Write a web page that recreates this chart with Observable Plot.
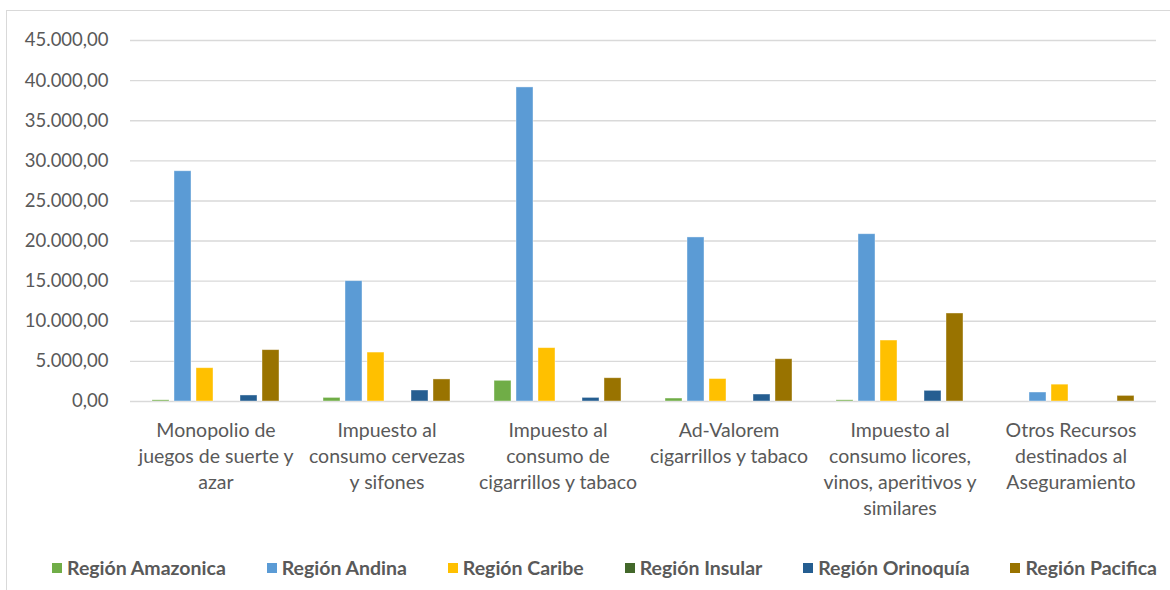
<!DOCTYPE html>
<html><head><meta charset="utf-8">
<script src="https://cdn.jsdelivr.net/npm/d3@7"></script>
<script src="https://cdn.jsdelivr.net/npm/@observablehq/plot@0.6"></script>
<style>
body{margin:0;background:#fff;font-family:Lato,"Open Sans",sans-serif;width:1170px;height:590px;overflow:hidden;position:relative;}
#frame{position:absolute;left:6px;top:10px;width:1200px;height:620px;border:1.5px solid #d9d9d9;}
#chart{position:absolute;left:0;top:0;}
#legend{position:absolute;top:556px;left:52px;width:1105px;display:flex;justify-content:space-between;align-items:center;}
.item{display:flex;align-items:center;font-weight:bold;font-size:19.5px;color:#595959;}
.sw{width:10px;height:10px;margin-right:5px;}
</style></head>
<body>
<div id="frame"></div>
<div id="chart"></div>
<div id="legend"></div>
<script>
const categories = ["Monopolio de juegos de suerte y azar","Impuesto al consumo cervezas y sifones","Impuesto al consumo de cigarrillos y tabaco","Ad-Valorem cigarrillos y tabaco","Impuesto al consumo licores, vinos, aperitivos y similares","Otros Recursos destinados al Aseguramiento"];
const tickLabels = ["Monopolio de\njuegos de suerte y\nazar","Impuesto al\nconsumo cervezas\ny sifones","Impuesto al\nconsumo de\ncigarrillos y tabaco","Ad-Valorem\ncigarrillos y tabaco","Impuesto al\nconsumo licores,\nvinos, aperitivos y\nsimilares","Otros Recursos\ndestinados al\nAseguramiento"];
const regions = ["Región Amazonica","Región Andina","Región Caribe","Región Insular","Región Orinoquía","Región Pacifica"];
const colors = ["#70AD47","#5B9BD5","#FFC000","#43682B","#255E91","#997300"];
const amazonica = [150, 450, 2580, 370, 150, 0];
const andina = [28700, 15000, 39150, 20450, 20850, 1120];
const caribe = [4150, 6100, 6650, 2800, 7600, 2100];
const insular = [0, 0, 0, 0, 0, 0];
const orinoquia = [750, 1370, 450, 870, 1330, 0];
const pacifica = [6400, 2750, 2900, 5270, 10970, 700];
const yTicks = [0,5000,10000,15000,20000,25000,30000,35000,40000,45000];

const series = [amazonica, andina, caribe, insular, orinoquia, pacifica];
const rows = [];
categories.forEach((c, i) => regions.forEach((r, j) => rows.push({cat: c, region: r, value: series[j][i]})));

const fmt = d3.formatLocale({decimal: ",", thousands: ".", grouping: [3], currency: ["", ""]}).format(",.2f");
const labelOf = new Map(categories.map((c, i) => [c, tickLabels[i]]));

const chart = Plot.plot({
  width: 1170, height: 525,
  marginTop: 40, marginBottom: 124, marginLeft: 130, marginRight: 14,
  style: {fontFamily: "Lato, 'Open Sans', sans-serif", color: "#595959", background: "transparent"},
  fx: {domain: categories, padding: 0, label: null},
  x: {domain: regions, paddingInner: 0.22, paddingOuter: 0.86, axis: null},
  y: {domain: [0, 45000], label: null},
  color: {domain: regions, range: colors},
  marks: [
    Plot.ruleY(yTicks, {stroke: "#d9d9d9", strokeWidth: 1.4}),
    Plot.axisY({ticks: yTicks, tickSize: 0, tickPadding: 22, tickFormat: fmt, fontSize: 18.5, label: null}),
    Plot.axisFx({anchor: "bottom", tickSize: 0, tickPadding: 17, tickFormat: d => labelOf.get(d), fontSize: 19.5, lineHeight: 1.33, label: null}),
    Plot.barY(rows, {fx: "cat", x: "region", y: "value", fill: "region", stroke: "white", strokeOpacity: 0.5, strokeWidth: 0.8})
  ]
});
document.getElementById("chart").appendChild(chart);

const leg = document.getElementById("legend");
regions.forEach((r, i) => {
  const it = document.createElement("div"); it.className = "item";
  const sw = document.createElement("span"); sw.className = "sw"; sw.style.background = colors[i];
  it.appendChild(sw); it.appendChild(document.createTextNode(r));
  leg.appendChild(it);
});
</script>
</body></html>
